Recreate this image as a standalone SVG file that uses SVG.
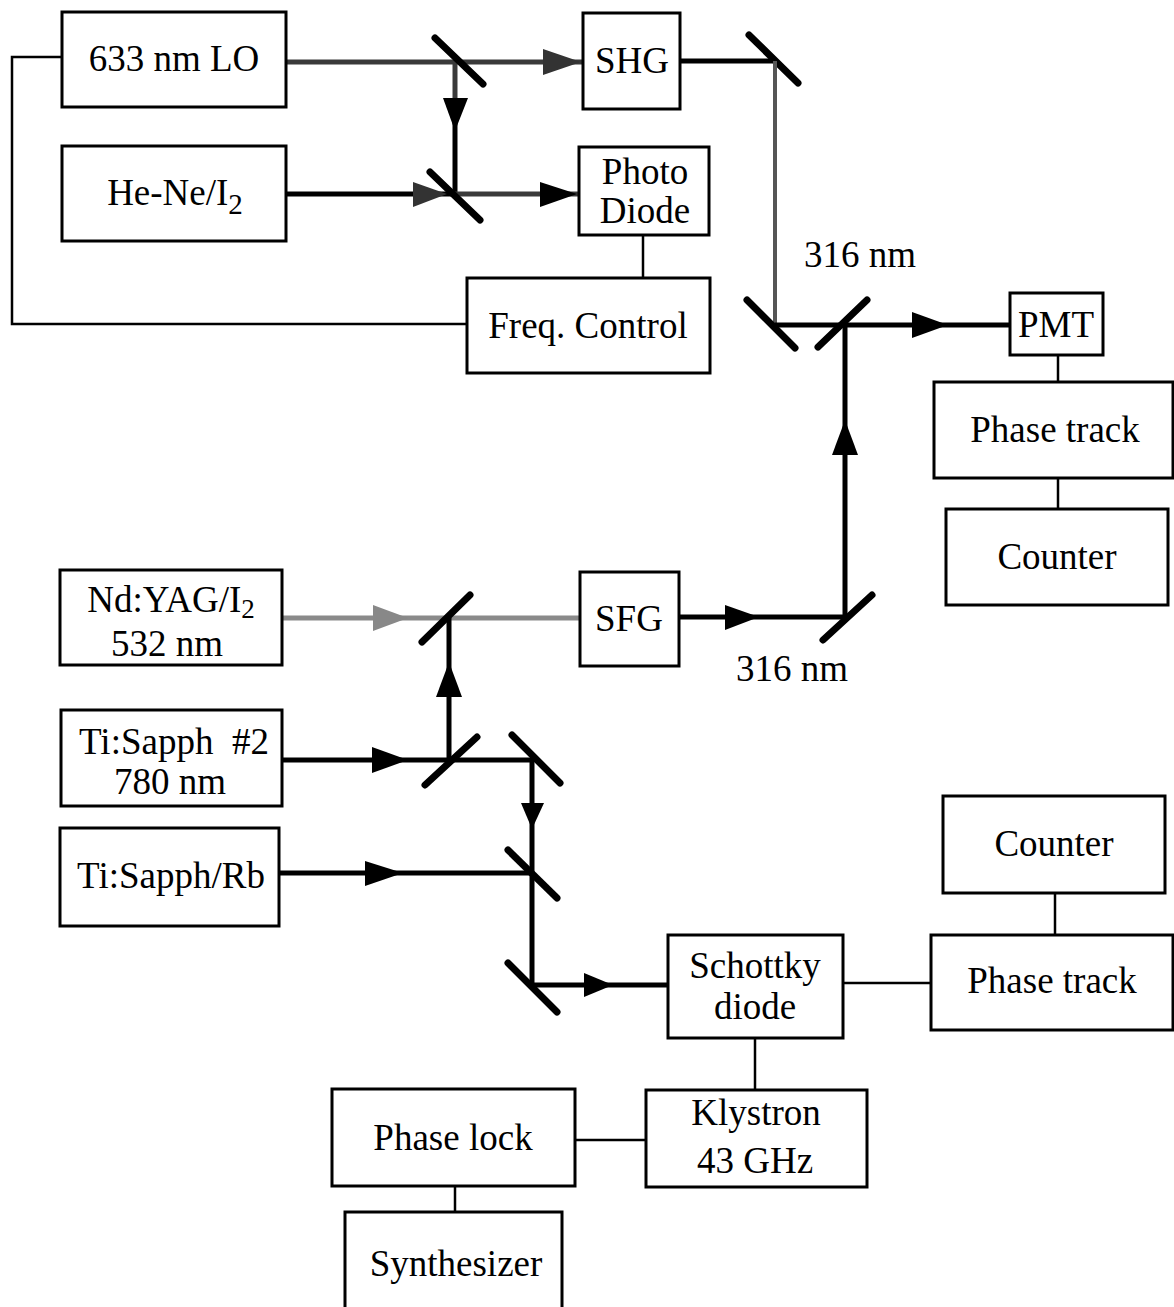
<svg xmlns="http://www.w3.org/2000/svg" width="1174" height="1307" viewBox="0 0 1174 1307">
<style>
.box{fill:#fff;stroke:#000;stroke-width:3}
.wire{fill:none;stroke:#000;stroke-width:2.5}
.beam{fill:none;stroke:#000;stroke-width:5}
.beamd{fill:none;stroke:#3a3a3a;stroke-width:5}
.beaml{fill:none;stroke:#8a8a8a;stroke-width:5}
.beamv{fill:none;stroke:#555;stroke-width:4}
.mirror{stroke:#000;stroke-width:7;stroke-linecap:round}
.ah{fill:#000}
.ahd{fill:#333}
.ahl{fill:#888}
text{font-family:"Liberation Serif","Times New Roman",serif;font-size:37px;text-anchor:middle;fill:#000}
</style>
<rect width="1174" height="1307" fill="#fff"/>

<g id="connectors">
  <!-- electrical wires -->
  <line class="wire" x1="643" y1="235" x2="643" y2="278"/>
  <polyline class="wire" points="467,324 12,324 12,57 62,57"/>
  <line class="wire" x1="1058" y1="355" x2="1058" y2="382"/>
  <line class="wire" x1="1058" y1="478" x2="1058" y2="509"/>
  <line class="wire" x1="1055" y1="893" x2="1055" y2="935"/>
  <line class="wire" x1="843" y1="983" x2="931" y2="983"/>
  <line class="wire" x1="755" y1="1038" x2="755" y2="1090"/>
  <line class="wire" x1="575" y1="1140" x2="646" y2="1140"/>
  <line class="wire" x1="455" y1="1186" x2="455" y2="1212"/>

  <!-- top optical beams -->
  <line class="beamd" x1="286" y1="62" x2="583" y2="62"/>
  <polygon class="ahd" points="543,49 581,62 543,75"/>
  <line class="beamd" x1="455" y1="62" x2="455" y2="100"/>
  <line class="beam" x1="455" y1="98" x2="455" y2="194"/>
  <polygon class="ah" points="443,98 468,98 455,131"/>
  <line class="beam" x1="286" y1="194" x2="455" y2="194"/>
  <polygon class="ahd" points="413,182 447,194 413,207"/>
  <line class="beamd" x1="455" y1="194" x2="579" y2="194"/>
  <polygon class="ah" points="540,182 577,194 540,207"/>
  <line class="mirror" x1="435" y1="38" x2="483" y2="84"/>
  <line class="mirror" x1="430" y1="172" x2="480" y2="220"/>

  <line class="beam" x1="680" y1="61" x2="775" y2="61"/>
  <line class="mirror" x1="749" y1="35" x2="798" y2="83"/>
  <line class="beamv" x1="775" y1="61" x2="775" y2="325"/>
  <line class="mirror" x1="747" y1="300" x2="795" y2="348"/>
  <line class="beam" x1="775" y1="325" x2="1010" y2="325"/>
  <polygon class="ah" points="912,312 948,325 912,338"/>
  <line class="mirror" x1="818" y1="347" x2="867" y2="300"/>
  <line class="beam" x1="845" y1="325" x2="845" y2="618"/>
  <polygon class="ah" points="832,455 845,420 858,455"/>

  <!-- SFG section -->
  <line class="beaml" x1="282" y1="618" x2="580" y2="618"/>
  <polygon class="ahl" points="373,605 408,618 373,631"/>
  <line class="beam" x1="679" y1="617" x2="845" y2="617"/>
  <polygon class="ah" points="725,605 759,617 725,630"/>
  <line class="mirror" x1="823" y1="640" x2="872" y2="595"/>
  <line class="beam" x1="449" y1="618" x2="449" y2="760"/>
  <polygon class="ah" points="436,697 449,662 462,697"/>
  <line class="mirror" x1="422" y1="642" x2="470" y2="595"/>

  <!-- Ti:Sapph section -->
  <line class="beam" x1="282" y1="760" x2="532" y2="760"/>
  <polygon class="ah" points="372,747 408,760 372,773"/>
  <line class="mirror" x1="425" y1="785" x2="477" y2="737"/>
  <line class="mirror" x1="512" y1="735" x2="560" y2="783"/>
  <line class="beam" x1="532" y1="760" x2="532" y2="985"/>
  <polygon class="ah" points="521,803 544,803 532,829"/>
  <line class="beam" x1="279" y1="873" x2="532" y2="873"/>
  <polygon class="ah" points="365,861 403,873 365,886"/>
  <line class="mirror" x1="508" y1="850" x2="557" y2="898"/>
  <line class="mirror" x1="508" y1="963" x2="557" y2="1012"/>
  <line class="beam" x1="532" y1="985" x2="668" y2="985"/>
  <polygon class="ah" points="584,973 613,985 584,997"/>
</g>

<g id="lo633"><rect class="box" x="62" y="12" width="224" height="95"/><text x="174" y="71">633 nm LO</text></g>
<g id="heneI2"><rect class="box" x="62" y="146" width="224" height="95"/><text x="175" y="205">He-Ne/I<tspan font-size="29" dy="9">2</tspan></text></g>
<g id="shg"><rect class="box" x="583" y="13" width="97" height="96"/><text x="632" y="73">SHG</text></g>
<g id="photodiode"><rect class="box" x="579" y="147" width="130" height="88"/><text x="645" y="184">Photo</text><text x="645" y="223">Diode</text></g>
<g id="freqcontrol"><rect class="box" x="467" y="278" width="243" height="95"/><text x="588" y="338">Freq. Control</text></g>
<g id="pmt"><rect class="box" x="1010" y="293" width="93" height="62"/><text x="1056" y="337">PMT</text></g>
<g id="phasetrack1"><rect class="box" x="934" y="382" width="239" height="96"/><text x="1055" y="442">Phase track</text></g>
<g id="counter1"><rect class="box" x="946" y="509" width="222" height="96"/><text x="1057" y="569">Counter</text></g>
<g id="ndyag"><rect class="box" x="60" y="570" width="222" height="95"/><text x="171" y="612">Nd:YAG/I<tspan font-size="27" dy="6">2</tspan></text><text x="167" y="656">532 nm</text></g>
<g id="sfg"><rect class="box" x="580" y="572" width="99" height="94"/><text x="629" y="631">SFG</text></g>
<g id="label316a"><text x="860" y="267">316 nm</text></g>
<g id="label316b"><text x="792" y="681">316 nm</text></g>
<g id="tisapph2"><rect class="box" x="61" y="710" width="221" height="96"/><text x="174" y="754" style="white-space:pre">Ti:Sapph  #2</text><text x="170" y="794">780 nm</text></g>
<g id="tisapphrb"><rect class="box" x="60" y="828" width="219" height="98"/><text x="171" y="888">Ti:Sapph/Rb</text></g>
<g id="counter2"><rect class="box" x="943" y="796" width="222" height="97"/><text x="1054" y="856">Counter</text></g>
<g id="phasetrack2"><rect class="box" x="931" y="935" width="242" height="95"/><text x="1052" y="993">Phase track</text></g>
<g id="schottky"><rect class="box" x="668" y="935" width="175" height="103"/><text x="755" y="978">Schottky</text><text x="755" y="1019">diode</text></g>
<g id="klystron"><rect class="box" x="646" y="1090" width="221" height="97"/><text x="756" y="1125">Klystron</text><text x="755" y="1173">43 GHz</text></g>
<g id="phaselock"><rect class="box" x="332" y="1089" width="243" height="97"/><text x="453" y="1150">Phase lock</text></g>
<g id="synthesizer"><rect class="box" x="345" y="1212" width="217" height="100"/><text x="456" y="1276">Synthesizer</text></g>
</svg>
